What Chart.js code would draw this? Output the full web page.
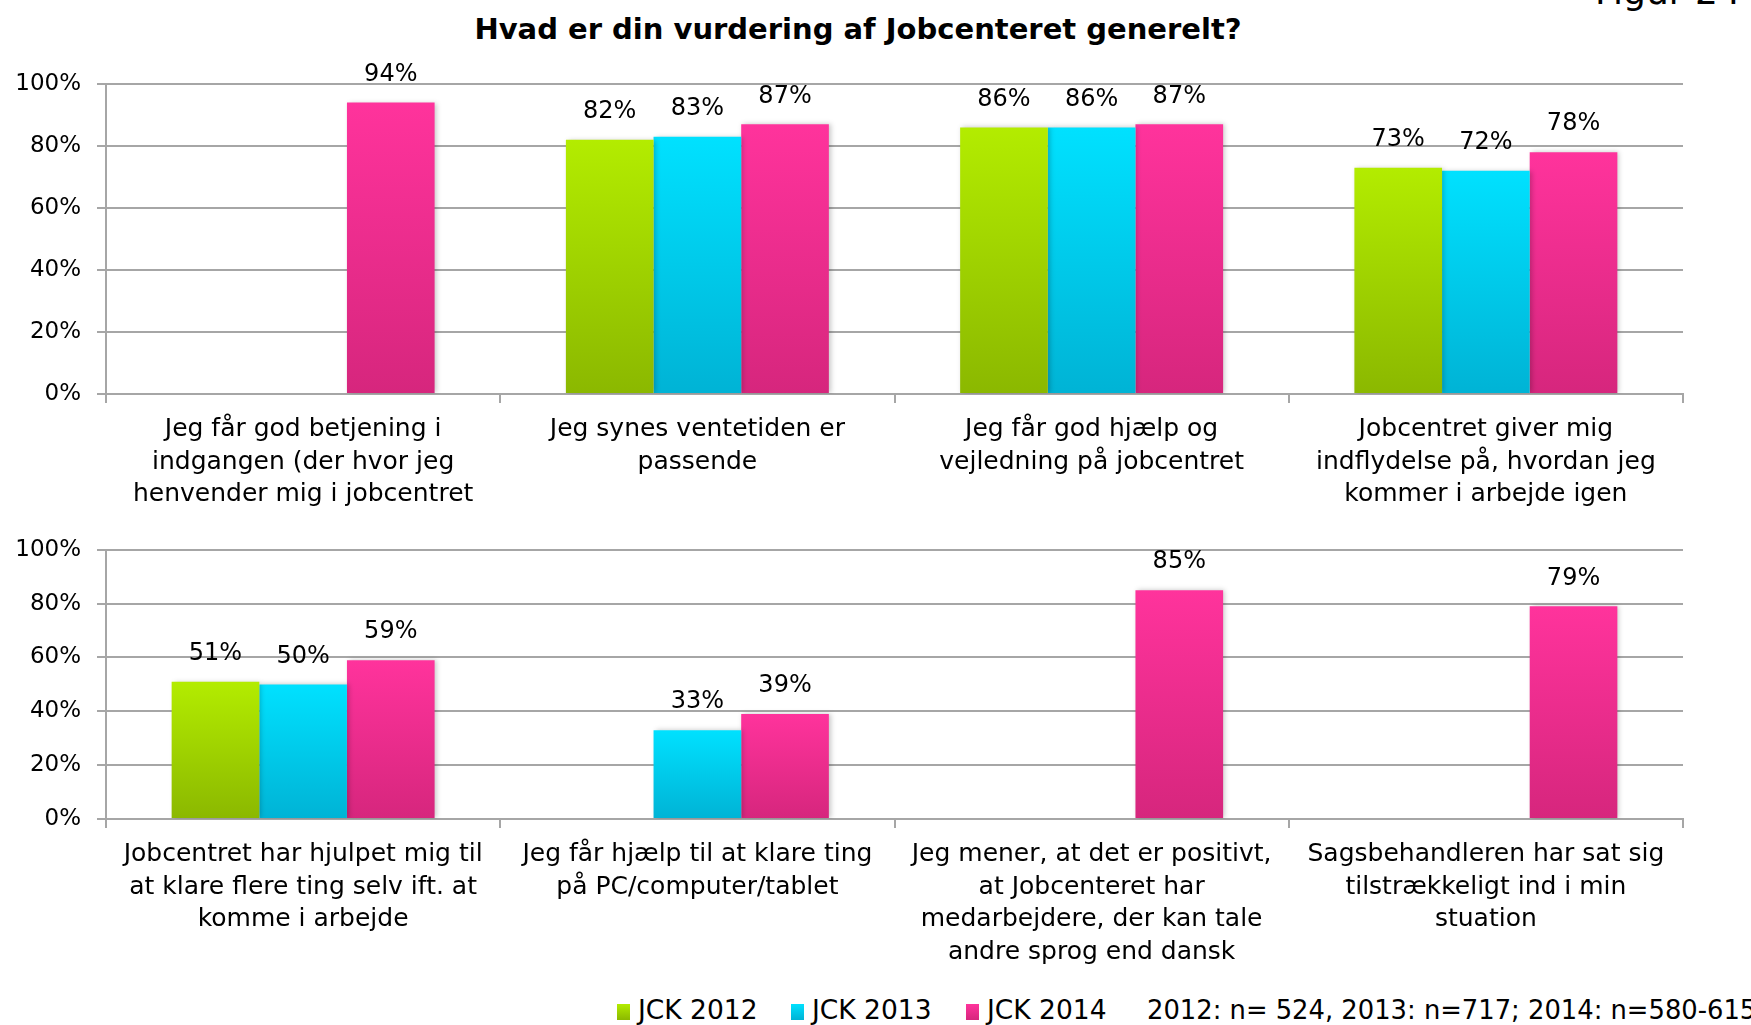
<!DOCTYPE html>
<html>
<head>
<meta charset="utf-8">
<script src="https://cdn.jsdelivr.net/npm/chart.js@4.4.1/dist/chart.umd.min.js"></script>
<style>
  html, body { margin: 0; padding: 0; background: #fff; overflow: hidden; }
  #page { position: relative; width: 1751px; height: 1025px; overflow: hidden; font-family: 'DejaVu Sans', sans-serif; color: #000; }
  canvas { position: absolute; left: 0; }
  .title { position: absolute; left: 0; width: 1716px; top: 11px; text-align: center; font-weight: bold; font-size: 29px; line-height: 36px; }
  .fig { position: absolute; left: 1595px; top: -29px; font-size: 36px; line-height: 42px; white-space: nowrap; }
  .leg { position: absolute; top: 994px; font-size: 26.5px; line-height: 32px; white-space: nowrap; }
  .leg.note { font-size: 25.8px; }
  .leg i { display: inline-block; width: 13px; height: 16px; margin-right: 8px; vertical-align: -1px; }
</style>
</head>
<body>
<div id="page">
  <div class="title">Hvad er din vurdering af Jobcenteret generelt?</div>
  <div class="fig">Figur 24</div>
  <canvas id="top" width="1751" height="520" style="top:0"></canvas>
  <canvas id="bot" width="1751" height="460" style="top:520px"></canvas>
  <div class="leg" style="left:617px"><i style="background:linear-gradient(#b3ec00,#8bb800)"></i>JCK 2012</div>
  <div class="leg" style="left:791px"><i style="background:linear-gradient(#00e1ff,#00b3d5)"></i>JCK 2013</div>
  <div class="leg" style="left:966px"><i style="background:linear-gradient(#ff339c,#d6267d)"></i>JCK 2014</div>
  <div class="leg note" style="left:1147px">2012: n= 524, 2013: n=717; 2014: n=580-615</div>
</div>
<script>
// ── Data ──
const seriesNames = ['JCK 2012', 'JCK 2013', 'JCK 2014'];

const topLabels = [
  ['Jeg får god betjening i', 'indgangen (der hvor jeg', 'henvender mig i jobcentret'],
  ['Jeg synes ventetiden er', 'passende'],
  ['Jeg får god hjælp og', 'vejledning på jobcentret'],
  ['Jobcentret giver mig', 'indflydelse på, hvordan jeg', 'kommer i arbejde igen']
];
const top2012 = [null, 82, 86, 73];
const top2013 = [null, 83, 86, 72];
const top2014 = [94, 87, 87, 78];

const botLabels = [
  ['Jobcentret har hjulpet mig til', 'at klare flere ting selv ift. at', 'komme i arbejde'],
  ['Jeg får hjælp til at klare ting', 'på PC/computer/tablet'],
  ['Jeg mener, at det er positivt,', 'at Jobcenteret har', 'medarbejdere, der kan tale', 'andre sprog end dansk'],
  ['Sagsbehandleren har sat sig', 'tilstrækkeligt ind i min', 'stuation']
];
const bot2012 = [51, null, null, null];
const bot2013 = [50, 33, null, null];
const bot2014 = [59, 39, 85, 79];

const yTicks = [0, 20, 40, 60, 80, 100];

// ── Styles ──
const colors = [
  ['#b3ec00', '#8bb800'],
  ['#00e1ff', '#00b3d5'],
  ['#ff339c', '#d6267d']
];
const gridCol = '#a6a6a6';
Chart.defaults.font.family = "'DejaVu Sans', sans-serif";
Chart.defaults.color = '#000';

function barFill(pair) {
  return c => {
    const ch = c.chart, y = ch.scales.y;
    if (!ch.chartArea || !y || c.raw == null) return pair[0];
    const t = y.getPixelForValue(c.raw), b = y.getPixelForValue(0);
    const g = ch.ctx.createLinearGradient(0, t, 0, b);
    g.addColorStop(0, pair[0]);
    g.addColorStop(1, pair[1]);
    return g;
  };
}

// soft shadow to the right of each bar, like the original
const barShadow = {
  id: 'barShadow',
  beforeDatasetDraw(ch) {
    const ctx = ch.ctx;
    ctx.save();
    ctx.shadowColor = 'rgba(0,0,0,0.22)';
    ctx.shadowBlur = 5;
    ctx.shadowOffsetX = 2;
    ctx.shadowOffsetY = 0;
  },
  afterDatasetDraw(ch) { ch.ctx.restore(); }
};

const valueLabels = {
  id: 'valueLabels',
  afterDatasetsDraw(ch) {
    const ctx = ch.ctx;
    ctx.save();
    ctx.font = "24px 'DejaVu Sans', sans-serif";
    ctx.fillStyle = '#000';
    ctx.textAlign = 'center';
    ctx.textBaseline = 'middle';
    ch.data.datasets.forEach((ds, di) => {
      ch.getDatasetMeta(di).data.forEach((el, i) => {
        const v = ds.data[i];
        if (v == null) return;
        ctx.fillText(v + '%', el.x, el.y - 28);
      });
    });
    ctx.restore();
  }
};

function makeChart(id, labels, d12, d13, d14, areaTop, xHeight) {
  const data = [d12, d13, d14];
  return new Chart(document.getElementById(id), {
    type: 'bar',
    data: {
      labels,
      datasets: seriesNames.map((n, i) => ({
        label: n, data: data[i], backgroundColor: barFill(colors[i]),
        borderWidth: 0, categoryPercentage: 0.667, barPercentage: 1
      }))
    },
    options: {
      responsive: false, animation: false,
      layout: { padding: { top: areaTop, right: 68, bottom: 0, left: 0 } },
      plugins: { legend: { display: false }, tooltip: { enabled: false } },
      scales: {
        x: {
          afterFit: s => { s.height = xHeight; },
          grid: { offset: true, drawOnChartArea: false, color: gridCol, lineWidth: 2, tickLength: 9 },
          border: { color: gridCol, width: 2 },
          ticks: { autoSkip: false, maxRotation: 0, minRotation: 0, padding: 10, font: { size: 25, lineHeight: 1.31 } }
        },
        y: {
          min: 0, max: 100,
          afterFit: s => { s.width = 106; },
          afterBuildTicks: s => { s.ticks = yTicks.map(v => ({ value: v })); },
          grid: { color: gridCol, lineWidth: 2, tickLength: 9 },
          border: { color: gridCol, width: 2 },
          ticks: { padding: 16, callback: v => v + '%', font: { size: 23 } }
        }
      }
    },
    plugins: [barShadow, valueLabels]
  });
}

makeChart('top', topLabels, top2012, top2013, top2014, 84, 126);
makeChart('bot', botLabels, bot2012, bot2013, bot2014, 25, 161);
</script>
</body>
</html>
